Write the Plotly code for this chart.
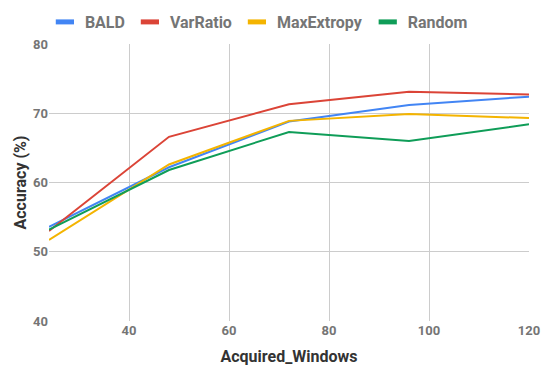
import plotly.graph_objects as go

windows = [24, 48, 72, 96, 120]
bald = [53.6, 62.2, 68.8, 71.2, 72.4]
var_ratio = [53.0, 66.6, 71.3, 73.1, 72.7]
max_extropy = [51.7, 62.6, 68.9, 69.9, 69.3]
random_acc = [53.2, 61.8, 67.3, 66.0, 68.4]

series = [
    ("BALD", bald, "#4285F4"),
    ("VarRatio", var_ratio, "#DB4437"),
    ("MaxExtropy", max_extropy, "#F4B400"),
    ("Random", random_acc, "#0F9D58"),
]

fig = go.Figure()
for name, vals, color in series:
    fig.add_trace(go.Scatter(x=windows, y=vals, mode="lines", name=name,
                             line=dict(color=color, width=2), showlegend=False))
    # short thick bar as legend key, like the original chart
    fig.add_trace(go.Scatter(x=[None], y=[None], mode="markers", name=name,
                             marker=dict(symbol="line-ew", size=13,
                                         line=dict(color=color, width=5))))

fig.update_layout(
    width=545, height=371,
    margin=dict(l=49, r=16, t=44, b=50, autoexpand=False),
    paper_bgcolor="white", plot_bgcolor="white",
    font=dict(family="Roboto", color="#757575"),
    legend=dict(orientation="h", x=0.475, xanchor="center", xref="container",
                y=1 - 22 / 371, yanchor="middle", yref="container",
                font=dict(size=16, color="#757575", weight="bold"),
                itemwidth=30),
)
fig.update_xaxes(range=[24, 120], tickvals=[40, 60, 80, 100, 120],
                 showgrid=True, gridcolor="#cccccc", zeroline=False, showline=False,
                 tickfont=dict(size=13, color="#757575", weight="bold"),
                 title=dict(text="Acquired_Windows", font=dict(size=16, color="#333333", weight="bold"),
                            standoff=13))
fig.update_yaxes(range=[40, 80], tickvals=[40, 50, 60, 70, 80],
                 showgrid=True, gridcolor="#cccccc", zeroline=False, showline=False,
                 tickfont=dict(size=13, color="#757575", weight="bold"),
                 title=dict(text="Accuracy (%)", font=dict(size=16, color="#333333", weight="bold"),
                            standoff=2))

# page body has a default 8px margin, drop it so the figure sits at the corner
fig.write_html("out.html", config={"displayModeBar": False},
               post_script="document.body.style.margin='0';")
